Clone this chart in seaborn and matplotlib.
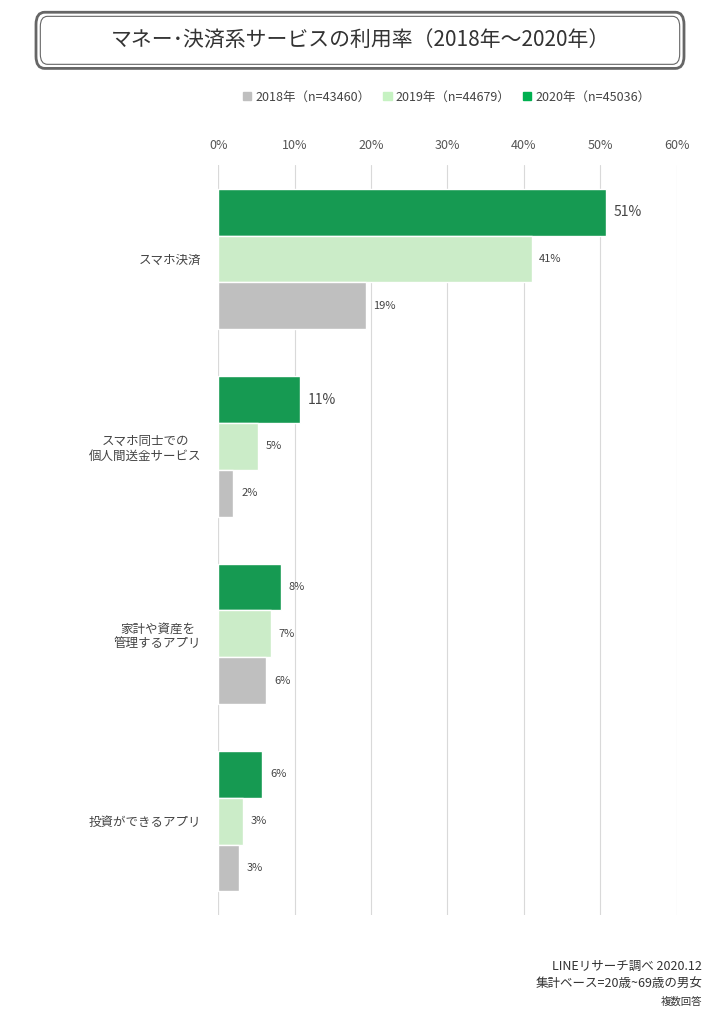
import matplotlib
matplotlib.use("Agg")
import matplotlib.pyplot as plt
import seaborn as sns
import pandas as pd
from matplotlib.patches import FancyBboxPatch, Patch

categories = ["スマホ決済", "スマホ同士での\n個人間送金サービス", "家計や資産を\n管理するアプリ", "投資ができるアプリ"]
years = ["2018年（n=43460）", "2019年（n=44679）", "2020年（n=45036）"]
v2018 = [19.3, 2.0, 6.3, 2.7]
v2019 = [41.0, 5.2, 6.9, 3.3]
v2020 = [50.7, 10.7, 8.2, 5.8]
lab2018 = ["19%", "2%", "6%", "3%"]
lab2019 = ["41%", "5%", "7%", "3%"]
lab2020 = ["51%", "11%", "8%", "6%"]
ticks = [0, 10, 20, 30, 40, 50, 60]
colors = {years[0]: "#BFBFBF", years[1]: "#C6F2C2", years[2]: "#00B050"}

sns.set_style("white")
plt.rcParams['font.family'] = ['Noto Sans CJK JP', 'DejaVu Sans']

rows = []
for vals, y in ((v2018, years[0]), (v2019, years[1]), (v2020, years[2])):
    for c, v in zip(categories, vals):
        rows.append({"cat": c, "year": y, "val": v})
df = pd.DataFrame(rows)

fig = plt.figure(figsize=(7.2, 10.21), dpi=100)
ax = fig.add_axes([0.303, 0.104, 0.637, 0.734])
hue_order = [years[2], years[1], years[0]]
sns.barplot(data=df, y="cat", x="val", hue="year", hue_order=hue_order, order=categories,
            palette=colors, orient="h", width=0.75, ax=ax, legend=False, errorbar=None)

labels = {years[0]: lab2018, years[1]: lab2019, years[2]: lab2020}
for cont, y in zip(ax.containers, hue_order):
    for i, (bar, t) in enumerate(zip(cont, labels[y])):
        big = (y == years[2] and i < 2)
        ax.text(bar.get_width() + 1.0, bar.get_y() + bar.get_height() / 2, t,
                va="center", ha="left", fontsize=10 if big else 8, color="#444444")

ax.set_xlim(0, 60)
ax.set_xticks(ticks)
ax.set_xticklabels([f"{t}%" for t in ticks], fontsize=9, color="#555555")
ax.xaxis.tick_top()
ax.tick_params(axis="x", length=0, pad=10)
ax.tick_params(axis="y", length=0, pad=12, labelsize=9, labelcolor="#444444")
ax.set_xlabel("")
ax.set_ylabel("")
ax.grid(axis="x", color="#D9D9D9", linewidth=0.8)
ax.set_axisbelow(True)
for s in ax.spines.values():
    s.set_visible(False)
ax.axvline(0, color="#D9D9D9", linewidth=0.8, zorder=0)
for lbl in ax.get_yticklabels():
    lbl.set_multialignment("center")

handles = [Patch(color=colors[y]) for y in years]
fig.legend(handles, years, loc="center", bbox_to_anchor=(0.62, 0.905), ncol=3, frameon=False,
           fontsize=9, handlelength=0.7, handleheight=0.7, handletextpad=0.3, columnspacing=1.0,
           labelcolor="#444444")

box = FancyBboxPatch((0.05, 0.933), 0.9, 0.055, boxstyle="round,pad=0,rounding_size=0.012",
                     transform=fig.transFigure, fill=False, edgecolor="#666666", linewidth=2.0)
fig.patches.append(box)
box2 = FancyBboxPatch((0.056, 0.937), 0.888, 0.047, boxstyle="round,pad=0,rounding_size=0.01",
                      transform=fig.transFigure, fill=False, edgecolor="#666666", linewidth=0.8)
fig.patches.append(box2)
fig.text(0.5, 0.9605, "マネー･決済系サービスの利用率（2018年～2020年）", ha="center", va="center",
         fontsize=15, color="#333333")

fig.text(0.975, 0.05, "LINEリサーチ調べ 2020.12", ha="right", fontsize=9, color="#333333")
fig.text(0.975, 0.032, "集計ベース=20歳~69歳の男女", ha="right", fontsize=9, color="#333333")
fig.text(0.975, 0.016, "複数回答", ha="right", fontsize=7.5, color="#333333")

fig.savefig("out.png", dpi=100)
